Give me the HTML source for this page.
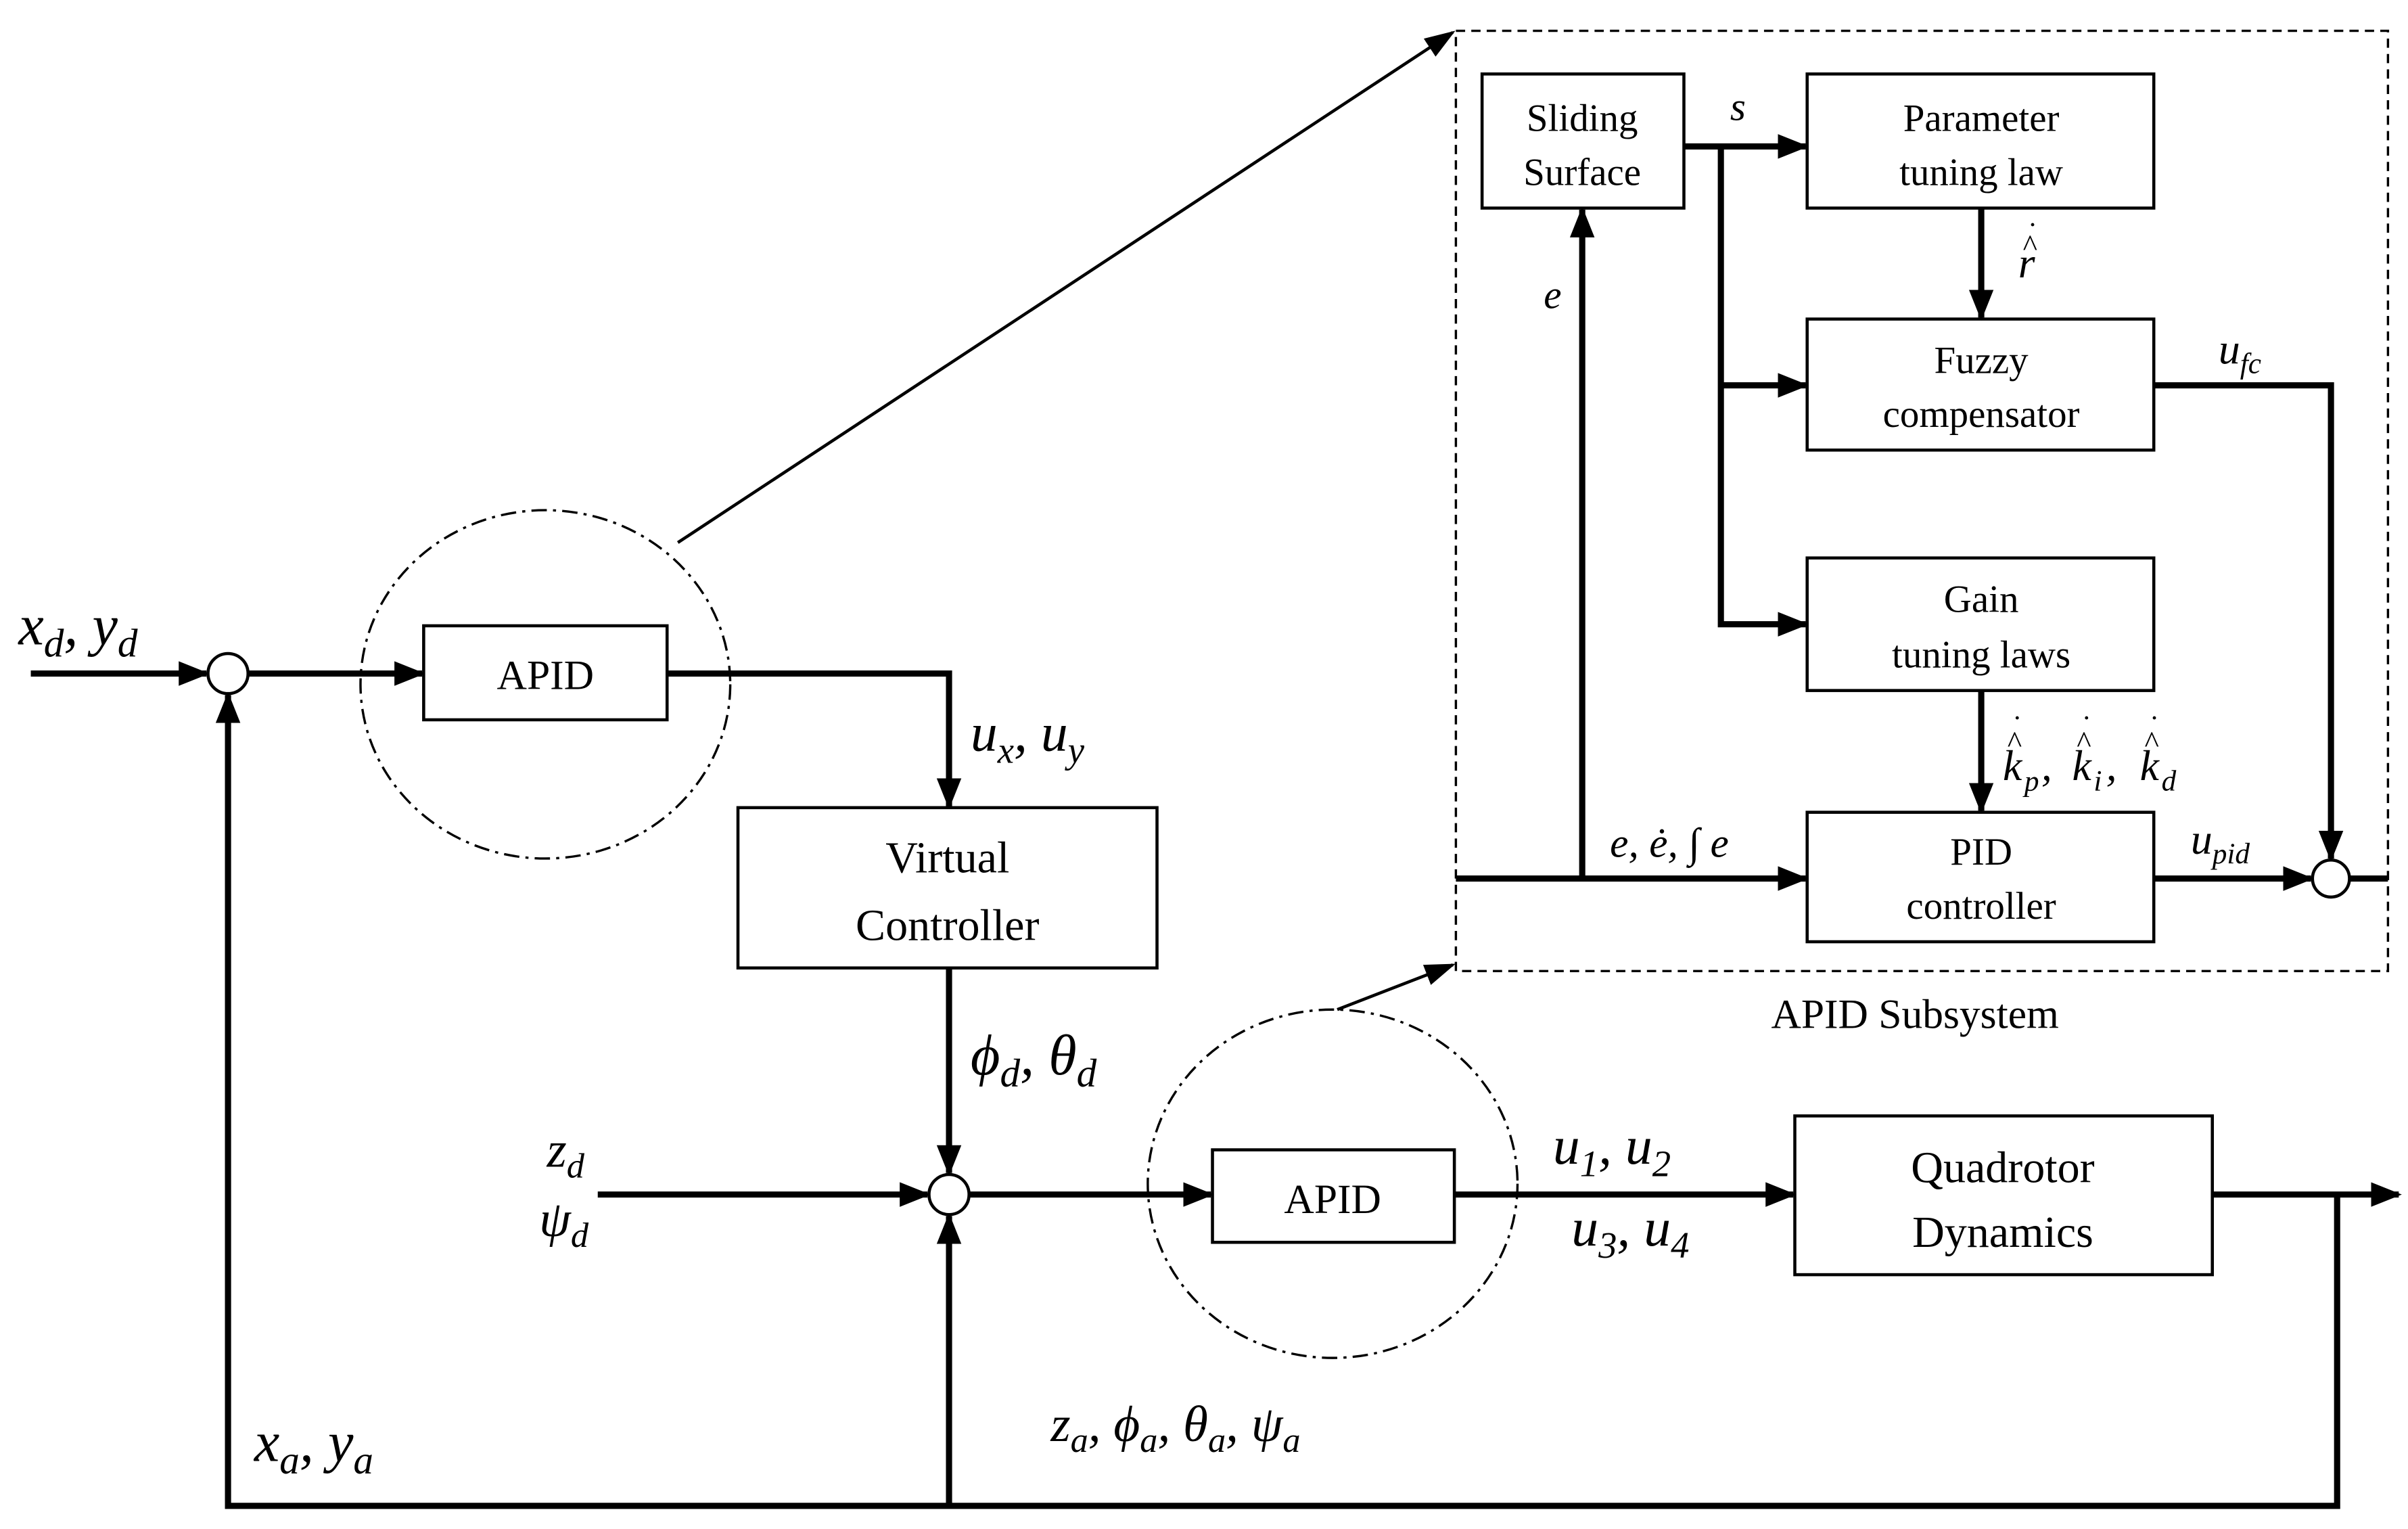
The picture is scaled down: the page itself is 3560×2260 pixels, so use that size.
<!DOCTYPE html>
<html><head><meta charset="utf-8"><style>html,body{margin:0;padding:0;background:#fff}svg{display:block}</style></head>
<body>
<svg width="3560" height="2260" viewBox="0 0 1563 992" preserveAspectRatio="none" xmlns="http://www.w3.org/2000/svg">
<defs>
<marker id="a" viewBox="0 0 10 10" refX="9" refY="5" markerWidth="5" markerHeight="5" orient="auto" markerUnits="strokeWidth"><path d="M0,1 L10,5 L0,9 z" fill="#000"/></marker>
<marker id="t" viewBox="0 0 10 10" refX="9" refY="5" markerWidth="10" markerHeight="10" orient="auto" markerUnits="strokeWidth"><path d="M0,1.5 L10,5 L0,8.5 z" fill="#000"/></marker>
</defs>
<g fill="none" stroke="#000">
<rect x="945" y="20" width="605" height="610" stroke-width="1.5" stroke-dasharray="6,4"/>
<ellipse cx="354" cy="444" rx="120" ry="113" stroke-width="1.5" stroke-dasharray="10,4,2,4"/>
<ellipse cx="865" cy="768" rx="120" ry="113" stroke-width="1.5" stroke-dasharray="10,4,2,4"/>
<g stroke-width="2">
<rect x="962" y="48" width="131" height="87"/>
<rect x="1173" y="48" width="225" height="87"/>
<rect x="1173" y="207" width="225" height="85"/>
<rect x="1173" y="362" width="225" height="86"/>
<rect x="1173" y="527" width="225" height="84"/>
<rect x="275" y="406" width="158" height="61"/>
<rect x="479" y="524" width="272" height="104"/>
<rect x="787" y="746" width="157" height="60"/>
<rect x="1165" y="724" width="271" height="103"/>
<circle cx="1513" cy="570" r="12"/>
<circle cx="148" cy="437" r="13"/>
<circle cx="616" cy="775" r="13"/>
</g>
<line x1="440" y1="352" x2="943" y2="21" stroke-width="2" marker-end="url(#t)"/>
<line x1="868" y1="655" x2="943" y2="626" stroke-width="2" marker-end="url(#t)"/>
<g stroke-width="4">
<line x1="1093" y1="95" x2="1172" y2="95" marker-end="url(#a)"/>
<polyline points="1117,95 1117,405 1172,405" marker-end="url(#a)"/>
<line x1="1117" y1="250" x2="1172" y2="250" marker-end="url(#a)"/>
<line x1="1286" y1="135" x2="1286" y2="206" marker-end="url(#a)"/>
<polyline points="1398,250 1513,250 1513,557" marker-end="url(#a)"/>
<line x1="1286" y1="448" x2="1286" y2="526" marker-end="url(#a)"/>
<line x1="945" y1="570" x2="1172" y2="570" marker-end="url(#a)"/>
<line x1="1027" y1="570" x2="1027" y2="136" marker-end="url(#a)"/>
<line x1="1398" y1="570" x2="1500" y2="570" marker-end="url(#a)"/>
<line x1="1525" y1="570" x2="1550" y2="570"/>
<line x1="20" y1="437" x2="134" y2="437" marker-end="url(#a)"/>
<line x1="161" y1="437" x2="274" y2="437" marker-end="url(#a)"/>
<polyline points="433,437 616,437 616,523" marker-end="url(#a)"/>
<line x1="616" y1="628" x2="616" y2="761" marker-end="url(#a)"/>
<line x1="388" y1="775" x2="602" y2="775" marker-end="url(#a)"/>
<line x1="629" y1="775" x2="786" y2="775" marker-end="url(#a)"/>
<line x1="944" y1="775" x2="1164" y2="775" marker-end="url(#a)"/>
<line x1="1436" y1="775" x2="1557" y2="775" marker-end="url(#a)"/>
<polyline points="1517,775 1517,977 148,977 148,451" marker-end="url(#a)"/>
<line x1="616" y1="977" x2="616" y2="789" marker-end="url(#a)"/>
</g>
</g>
<g font-family="Liberation Serif, serif" font-size="25" text-anchor="middle" fill="#000">
<text x="1027" y="85">Sliding</text><text x="1027" y="120">Surface</text>
<text x="1286" y="85">Parameter</text><text x="1286" y="120">tuning law</text>
<text x="1286" y="242">Fuzzy</text><text x="1286" y="277">compensator</text>
<text x="1286" y="397">Gain</text><text x="1286" y="433">tuning laws</text>
<text x="1286" y="561">PID</text><text x="1286" y="596">controller</text>
<text x="1243" y="667" font-size="27">APID Subsystem</text>
<text x="354" y="447" font-size="27">APID</text>
<text x="865" y="787" font-size="27">APID</text>
<text x="615" y="566" font-size="29">Virtual</text><text x="615" y="610" font-size="29">Controller</text>
<text x="1300" y="767" font-size="29">Quadrotor</text><text x="1300" y="809" font-size="29">Dynamics</text>
</g>
<g font-family="Liberation Serif, serif" font-style="italic" fill="#000">
<text x="1123" y="78" font-size="26">s</text>
<text x="1002" y="200" font-size="26">e</text>
<text x="1310" y="180" font-size="28">r</text>
<text x="1313" y="166" font-size="20" font-style="normal">^</text>
<text x="1316" y="158" font-size="20" font-style="normal">˙</text>
<text x="1440" y="236" font-size="28">u<tspan font-size="19" dy="6">fc</tspan></text>
<g font-size="28">
<text x="1300" y="506">k</text><text x="1314" y="513" font-size="19">p</text><text x="1325" y="506">,</text>
<text x="1345" y="506">k</text><text x="1359" y="513" font-size="19">i</text><text x="1367" y="506">,</text>
<text x="1389" y="506">k</text><text x="1403" y="513" font-size="19">d</text>
</g>
<g font-size="20" font-style="normal">
<text x="1303" y="488">^</text><text x="1306" y="478">˙</text>
<text x="1348" y="488">^</text><text x="1351" y="478">˙</text>
<text x="1392" y="488">^</text><text x="1395" y="478">˙</text>
</g>
<text x="1045" y="556" font-size="27">e, ė, ∫ e</text>
<text x="1422" y="554" font-size="28">u<tspan font-size="19" dy="6">pid</tspan></text>
<text x="12" y="418" font-size="37">x<tspan font-size="26" dy="8">d</tspan><tspan dy="-8">, y</tspan><tspan font-size="26" dy="8">d</tspan></text>
<text x="630" y="487" font-size="35">u<tspan font-size="24" dy="8">x</tspan><tspan dy="-8">, u</tspan><tspan font-size="24" dy="8">y</tspan></text>
<text x="630" y="697" font-size="37">ϕ<tspan font-size="26" dy="8">d</tspan><tspan dy="-8">, θ</tspan><tspan font-size="26" dy="8">d</tspan></text>
<text x="355" y="757" font-size="33">z<tspan font-size="23" dy="7">d</tspan></text>
<text x="350" y="802" font-size="33">ψ<tspan font-size="23" dy="7">d</tspan></text>
<text x="1008" y="755" font-size="35">u<tspan font-size="24" dy="8">1</tspan><tspan dy="-8">, u</tspan><tspan font-size="24" dy="8">2</tspan></text>
<text x="1020" y="808" font-size="35">u<tspan font-size="24" dy="8">3</tspan><tspan dy="-8">, u</tspan><tspan font-size="24" dy="8">4</tspan></text>
<text x="682" y="935" font-size="33">z<tspan font-size="23" dy="7">a</tspan><tspan dy="-7">, ϕ</tspan><tspan font-size="23" dy="7">a</tspan><tspan dy="-7">, θ</tspan><tspan font-size="23" dy="7">a</tspan><tspan dy="-7">, ψ</tspan><tspan font-size="23" dy="7">a</tspan></text>
<text x="165" y="948" font-size="37">x<tspan font-size="26" dy="8">a</tspan><tspan dy="-8">, y</tspan><tspan font-size="26" dy="8">a</tspan></text>
</g>
</svg>
</body></html>
